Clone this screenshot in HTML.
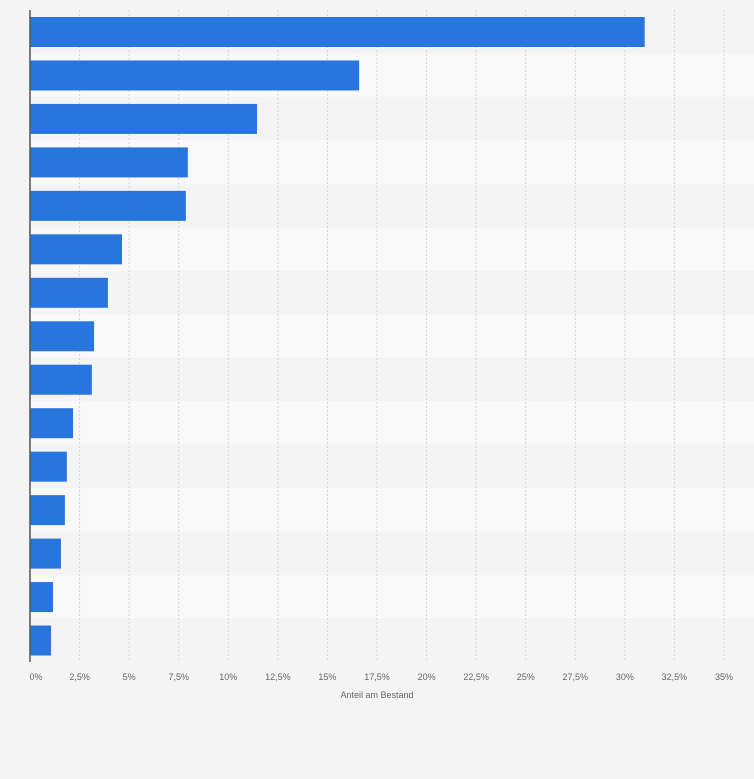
<!DOCTYPE html>
<html><head><meta charset="utf-8"><style>
body{margin:0;background:#f4f4f4;font-family:"Liberation Sans",sans-serif}
svg{display:block}
</style></head><body>
<svg id="chart" width="754" height="779" xmlns="http://www.w3.org/2000/svg">
<rect width="754" height="779" fill="#f4f4f4"/>
<g id="bands"></g><g id="grid"></g><g id="bars"></g><g id="ticks"></g>
<line x1="30" y1="10" x2="30" y2="662" stroke="#555" stroke-width="1.5"/>
<text x="377" y="698" font-size="9" fill="#666" text-anchor="middle">Anteil am Bestand</text>
</svg>
<script>
const categories=["c1","c2","c3","c4","c5","c6","c7","c8","c9","c10","c11","c12","c13","c14","c15"];
const values=[31.0,16.6,11.45,7.96,7.86,4.64,3.93,3.23,3.12,2.17,1.86,1.76,1.56,1.16,1.06];
const tickValues=[0,2.5,5,7.5,10,12.5,15,17.5,20,22.5,25,27.5,30,32.5,35];
const tickLabels=["0%","2,5%","5%","7,5%","10%","12,5%","15%","17,5%","20%","22,5%","25%","27,5%","30%","32,5%","35%"];
const NS="http://www.w3.org/2000/svg";
const x0=30,x1=724,plotTop=10,plotBottom=662,maxV=35;
const xs=v=>x0+(v/maxV)*(x1-x0);
const rowH=(plotBottom-plotTop)/categories.length;
const ys=i=>plotTop+i*rowH;
function mk(t,a,p){const e=document.createElementNS(NS,t);for(const k in a)e.setAttribute(k,a[k]);document.getElementById(p).appendChild(e);return e;}
categories.forEach((c,i)=>{
 const b=mk("rect",{x:x0,y:ys(i),width:x1-x0+30,height:rowH,fill:i%2?"#f9f9f9":"#f4f4f4"},"bands");
 
 
});
tickValues.forEach((v,i)=>{
 if(v>0){const g=mk("line",{x1:xs(v),x2:xs(v),y1:plotTop,y2:plotBottom,stroke:"#d6d6d6","stroke-dasharray":"2,2"},"grid");
 
 }
 const t=mk("text",{x:xs(v)+(i==0?6:0),y:680,"font-size":"9",fill:"#666","text-anchor":"middle"},"ticks");
 t.textContent=tickLabels[i];
 
 
});
values.forEach((v,i)=>{
 const r=mk("rect",{x:x0,y:ys(i)+7,width:xs(v)-x0,height:30,fill:"#2876dd"},"bars");
 
 
});
</script>
</body></html>
